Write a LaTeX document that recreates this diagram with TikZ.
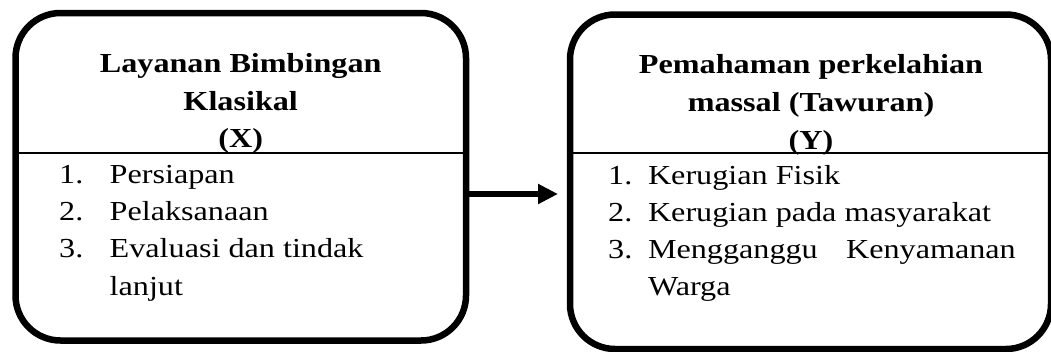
\documentclass[tikz,border=0pt]{standalone}
\usepackage{fontspec}
\setmainfont{Liberation Serif}[FakeStretch=1.17]
\usetikzlibrary{arrows.meta}
\begin{document}
\begin{tikzpicture}[x=1pt,y=-1pt,
  box/.style={draw=black, line width=6.5pt, rounded corners=45pt, fill=white, inner sep=0pt},
  divider/.style={draw=black, line width=1.6pt},
  link/.style={draw=black, line width=6.5pt, -{Triangle[length=20pt,width=19pt]}},
  txt/.style={inner sep=0pt, font=\fontsize{27.5}{37}\selectfont},
  ttl/.style={txt, font=\fontsize{27.5}{37}\selectfont\bfseries, anchor=base},
  item/.style={txt, anchor=base west}]
\useasboundingbox (0,0) rectangle (1051,351);
% boxes
\node[box, minimum width=450.5pt, minimum height=327.5pt] (X) at (240.75,176.75) {};
\node[box, minimum width=481pt, minimum height=334.5pt] (Y) at (810.5,181.75) {};
% dividers
\draw[divider] (18.75,152.7) -- (462.75,152.7);
\draw[divider] (573.25,152.7) -- (1051,152.7);
% arrow
\coordinate (a1) at (X.east |- 0,194);
\coordinate (a2) at (Y.west |- 0,194);
\draw[link, shorten >=8.75pt] (a1) -- (a2);
% left title
\node[ttl] (xt1) at (240.7,72) {Layanan Bimbingan};
\node[ttl] (xt2) at (240.7,110) {Klasikal};
\node[ttl] (xt3) at (240.7,147.5) {(X)};
% left items
\node[item] (xn1) at (59,183) {1.};
\node[item] (xi1) at (109.5,183) {Persiapan};
\node[item] (xn2) at (59,220.3) {2.};
\node[item] (xi2) at (109.5,220.3) {Pelaksanaan};
\node[item] (xn3) at (59,257.6) {3.};
\node[item] (xi3) at (109.5,257.6) {Evaluasi dan tindak};
\node[item] (xi4) at (109.5,295) {lanjut};
% right title
\node[ttl] (yt1) at (811,73.5) {Pemahaman perkelahian};
\node[ttl] (yt2) at (811,111.5) {massal (Tawuran)};
\node[ttl] (yt3) at (811,149) {(Y)};
% right items
\node[item] (yn1) at (608,184) {1.};
\node[item] (yi1) at (647.8,184) {Kerugian Fisik};
\node[item] (yn2) at (608,221) {2.};
\node[item] (yi2) at (647.8,221) {Kerugian pada masyarakat};
\node[item] (yn3) at (608,258.3) {3.};
\node[item] (yi3) at (647.8,258.3) {Mengganggu};
\node[txt, anchor=base east] (yi3b) at (1016,258.3) {Kenyamanan};
\node[item] (yi4) at (647.8,295.5) {Warga};
\end{tikzpicture}
\end{document}
